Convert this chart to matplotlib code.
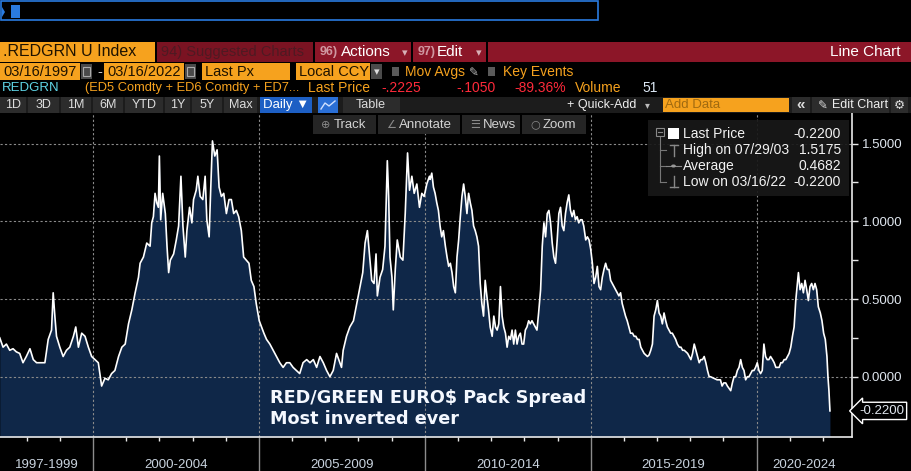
import matplotlib
matplotlib.use('Agg')
import matplotlib.pyplot as plt
from matplotlib.patches import Rectangle, Polygon
from matplotlib.lines import Line2D
from matplotlib.transforms import blended_transform_factory

# RED/GREEN pack spread (decimal years, value)
years = [
    1997.19, 1997.29, 1997.39, 1997.49, 1997.59, 1997.69, 1997.79, 1997.89, 1997.99, 1998.10,
    1998.20, 1998.30, 1998.40, 1998.55, 1998.65, 1998.75, 1998.80, 1998.85, 1998.90, 1999.00,
    1999.10, 1999.20, 1999.30, 1999.41, 1999.48, 1999.56, 1999.66, 1999.76, 1999.86, 1999.96,
    2000.06, 2000.16, 2000.26, 2000.36, 2000.46, 2000.56, 2000.66, 2000.77, 2000.87, 2000.97,
    2001.07, 2001.17, 2001.27, 2001.37, 2001.42, 2001.52, 2001.62, 2001.72, 2001.77, 2001.82,
    2001.87, 2001.92, 2001.97, 2002.00, 2002.04, 2002.10, 2002.18, 2002.23, 2002.28, 2002.33,
    2002.43, 2002.51, 2002.58, 2002.65, 2002.71, 2002.78, 2002.83, 2002.91, 2002.98, 2003.03,
    2003.11, 2003.16, 2003.23, 2003.31, 2003.38, 2003.43, 2003.50, 2003.54, 2003.60, 2003.67,
    2003.74, 2003.80, 2003.87, 2003.94, 2004.02, 2004.10, 2004.17, 2004.24, 2004.32, 2004.39,
    2004.47, 2004.54, 2004.62, 2004.70, 2004.77, 2004.85, 2004.92, 2005.01, 2005.08, 2005.15,
    2005.23, 2005.33, 2005.43, 2005.53, 2005.63, 2005.73, 2005.83, 2005.93, 2006.03, 2006.13,
    2006.23, 2006.33, 2006.44, 2006.54, 2006.64, 2006.74, 2006.84, 2006.94, 2007.04, 2007.14,
    2007.24, 2007.34, 2007.44, 2007.49, 2007.54, 2007.64, 2007.74, 2007.85, 2007.95, 2008.05,
    2008.13, 2008.20, 2008.27, 2008.33, 2008.40, 2008.47, 2008.53, 2008.57, 2008.65, 2008.73,
    2008.80, 2008.87, 2008.91, 2008.95, 2009.01, 2009.05, 2009.11, 2009.17, 2009.26, 2009.34,
    2009.41, 2009.48, 2009.54, 2009.61, 2009.68, 2009.76, 2009.84, 2009.91, 2009.98, 2010.06,
    2010.14, 2010.16, 2010.21, 2010.26, 2010.31, 2010.36, 2010.41, 2010.46, 2010.51, 2010.56,
    2010.62, 2010.67, 2010.72, 2010.77, 2010.82, 2010.87, 2010.92, 2010.97, 2011.02, 2011.07,
    2011.12, 2011.17, 2011.22, 2011.27, 2011.32, 2011.37, 2011.42, 2011.47, 2011.52, 2011.57,
    2011.62, 2011.67, 2011.72, 2011.77, 2011.82, 2011.87, 2011.92, 2011.97, 2012.03, 2012.08,
    2012.13, 2012.18, 2012.23, 2012.28, 2012.33, 2012.38, 2012.43, 2012.48, 2012.53, 2012.58,
    2012.63, 2012.68, 2012.73, 2012.78, 2012.83, 2012.88, 2012.93, 2012.98, 2013.03, 2013.08,
    2013.13, 2013.18, 2013.23, 2013.28, 2013.33, 2013.38, 2013.43, 2013.49, 2013.54, 2013.59,
    2013.64, 2013.69, 2013.74, 2013.79, 2013.84, 2013.89, 2013.94, 2013.99, 2014.04, 2014.09,
    2014.14, 2014.19, 2014.24, 2014.29, 2014.34, 2014.39, 2014.44, 2014.49, 2014.54, 2014.59,
    2014.64, 2014.69, 2014.74, 2014.79, 2014.85, 2014.90, 2014.95, 2015.00, 2015.05, 2015.10,
    2015.15, 2015.20, 2015.25, 2015.30, 2015.35, 2015.40, 2015.45, 2015.50, 2015.55, 2015.60,
    2015.65, 2015.70, 2015.75, 2015.80, 2015.85, 2015.90, 2015.95, 2016.00, 2016.05, 2016.10,
    2016.15, 2016.20, 2016.26, 2016.31, 2016.36, 2016.41, 2016.46, 2016.51, 2016.56, 2016.61,
    2016.66, 2016.71, 2016.76, 2016.81, 2016.86, 2016.91, 2016.96, 2017.01, 2017.06, 2017.11,
    2017.16, 2017.21, 2017.26, 2017.31, 2017.36, 2017.41, 2017.46, 2017.51, 2017.56, 2017.61,
    2017.67, 2017.72, 2017.77, 2017.82, 2017.87, 2017.92, 2017.97, 2018.02, 2018.07, 2018.12,
    2018.17, 2018.22, 2018.27, 2018.32, 2018.37, 2018.42, 2018.47, 2018.52, 2018.57, 2018.61,
    2018.71, 2018.81, 2018.91, 2018.96, 2019.01, 2019.07, 2019.12, 2019.22, 2019.27, 2019.32,
    2019.37, 2019.42, 2019.47, 2019.52, 2019.57, 2019.62, 2019.67, 2019.72, 2019.77, 2019.82,
    2019.87, 2019.92, 2019.97, 2020.02, 2020.07, 2020.12, 2020.17, 2020.22, 2020.27, 2020.32,
    2020.37, 2020.42, 2020.48, 2020.53, 2020.58, 2020.63, 2020.68, 2020.73, 2020.78, 2020.83,
    2020.88, 2020.93, 2020.98, 2021.03, 2021.08, 2021.13, 2021.18, 2021.23, 2021.26, 2021.31,
    2021.36, 2021.41, 2021.46, 2021.51, 2021.56, 2021.61, 2021.66, 2021.71, 2021.76, 2021.81,
    2021.86, 2021.92, 2021.97, 2022.02, 2022.07, 2022.12, 2022.15, 2022.18, 2022.21,
]
values = [
    0.25, 0.19, 0.21, 0.17, 0.18, 0.16, 0.15, 0.09, 0.13, 0.18,
    0.11, 0.09, 0.09, 0.09, 0.24, 0.30, 0.54, 0.39, 0.26, 0.19,
    0.13, 0.17, 0.19, 0.26, 0.32, 0.19, 0.28, 0.26, 0.19, 0.13,
    0.11, 0.09, -0.06, -0.01, -0.02, 0.02, 0.04, 0.13, 0.19, 0.21,
    0.34, 0.43, 0.54, 0.64, 0.73, 0.77, 0.86, 0.84, 0.99, 1.03,
    1.18, 1.12, 1.09, 1.42, 1.01, 1.18, 1.05, 0.84, 0.67, 0.75,
    0.79, 0.88, 0.97, 1.29, 0.97, 0.77, 0.94, 1.09, 0.99, 1.14,
    1.20, 1.29, 1.16, 1.14, 1.29, 1.01, 0.90, 1.16, 1.5175, 1.42,
    1.46, 1.22, 1.16, 1.18, 1.05, 1.14, 1.14, 1.05, 1.07, 1.03,
    0.94, 0.77, 0.75, 0.73, 0.62, 0.58, 0.47, 0.36, 0.32, 0.28,
    0.24, 0.21, 0.17, 0.13, 0.09, 0.06, 0.09, 0.09, 0.06, 0.04,
    0.02, 0.09, 0.11, 0.09, 0.11, 0.06, 0.13, 0.09, 0.04, 0.00,
    0.04, 0.15, 0.09, 0.06, 0.17, 0.26, 0.32, 0.36, 0.47, 0.58,
    0.67, 0.86, 0.94, 0.79, 0.62, 0.60, 0.79, 0.52, 0.64, 0.69,
    0.84, 1.39, 1.16, 0.77, 0.64, 0.43, 0.69, 0.88, 0.77, 0.75,
    1.05, 1.44, 1.20, 1.29, 1.18, 1.24, 1.09, 1.18, 1.16, 1.24,
    1.29, 1.27, 1.31, 1.22, 1.18, 1.12, 1.07, 0.97, 0.90, 0.94,
    0.84, 0.77, 0.71, 0.73, 0.67, 0.58, 0.54, 0.77, 0.88, 1.03,
    1.16, 1.24, 1.16, 1.05, 1.18, 1.12, 1.07, 0.97, 0.94, 0.90,
    0.84, 0.60, 0.47, 0.39, 0.62, 0.52, 0.43, 0.32, 0.26, 0.39,
    0.32, 0.30, 0.34, 0.58, 0.39, 0.32, 0.28, 0.19, 0.26, 0.24,
    0.30, 0.21, 0.30, 0.21, 0.26, 0.28, 0.21, 0.21, 0.30, 0.32,
    0.36, 0.34, 0.36, 0.34, 0.32, 0.30, 0.41, 0.56, 0.84, 0.99,
    0.90, 1.05, 1.07, 0.99, 0.86, 0.77, 0.73, 0.88, 1.05, 1.09,
    0.97, 0.94, 1.05, 1.12, 1.17, 1.07, 1.03, 1.07, 1.01, 1.03,
    0.99, 1.01, 1.01, 0.97, 0.88, 0.90, 0.88, 0.82, 0.73, 0.60,
    0.64, 0.71, 0.58, 0.56, 0.64, 0.69, 0.73, 0.69, 0.69, 0.62,
    0.60, 0.58, 0.56, 0.54, 0.52, 0.54, 0.47, 0.43, 0.39, 0.36,
    0.32, 0.28, 0.28, 0.26, 0.26, 0.24, 0.24, 0.19, 0.17, 0.15,
    0.14, 0.13, 0.14, 0.17, 0.21, 0.39, 0.43, 0.49, 0.41, 0.39,
    0.34, 0.41, 0.36, 0.32, 0.30, 0.28, 0.28, 0.26, 0.24, 0.21,
    0.19, 0.19, 0.17, 0.17, 0.16, 0.15, 0.13, 0.11, 0.15, 0.21,
    0.17, 0.13, 0.09, 0.11, 0.11, 0.13, 0.09, 0.04, 0.00, 0.00,
    -0.01, -0.02, -0.02, -0.06, -0.04, -0.04, -0.06, -0.09, -0.04, 0.00,
    0.00, 0.04, 0.06, 0.11, 0.06, 0.04, -0.02, 0.00, 0.00, 0.02,
    0.04, 0.04, 0.06, 0.09, 0.04, 0.02, 0.04, 0.21, 0.13, 0.11,
    0.11, 0.13, 0.11, 0.09, 0.06, 0.06, 0.06, 0.09, 0.09, 0.11,
    0.11, 0.13, 0.15, 0.19, 0.26, 0.32, 0.49, 0.60, 0.67, 0.56,
    0.60, 0.54, 0.62, 0.56, 0.49, 0.58, 0.60, 0.56, 0.60, 0.56,
    0.45, 0.41, 0.36, 0.28, 0.24, 0.13, 0.00, -0.09, -0.22,
]

y_major = [0.0, 0.5, 1.0, 1.5]
y_minor = [0.25, 0.75, 1.25]
block_edges = [2000, 2005, 2010, 2015, 2020]
block_labels = ['1997-1999', '2000-2004', '2005-2009', '2010-2014', '2015-2019', '2020-2024']
year_ticks = [1998, 1999, 2001, 2002, 2003, 2004, 2006, 2007, 2008, 2009,
              2011, 2012, 2013, 2014, 2016, 2017, 2018, 2019, 2021, 2022]
last_price = -0.22
legend_rows = [('Last Price', '-0.2200'), ('High on 07/29/03', '1.5175'),
               ('Average', '0.4682'), ('Low on 03/16/22', '-0.2200')]
x_start, x_end = 1997.197, 2022.875
y_low, y_high = -0.388, 1.697

UI = 'Liberation Sans'
ORANGE = '#f6a21e'
DARK = '#1e1200'
RED_BAR = '#8c1628'
FILL = '#0f2748'

W, H = 911, 471
fig = plt.figure(figsize=(W / 100, H / 100), dpi=100, facecolor='black')


def fx(x):
    return x / W


def fy(y):
    return 1 - y / H


def rect(x0, y0, x1, y1, fc, ec='none', lw=0, z=2, alpha=1.0):
    fig.patches.append(Rectangle((fx(x0), fy(y1)), (x1 - x0) / W, (y1 - y0) / H,
                                 transform=fig.transFigure, facecolor=fc, edgecolor=ec,
                                 linewidth=lw, zorder=z, alpha=alpha))


def label(x, y, s, color, size=10, ha='left', weight='normal', family=UI, z=5):
    fig.text(fx(x), fy(y), s, color=color, fontsize=size, ha=ha, va='center',
             fontweight=weight, family=[family, 'DejaVu Sans'], zorder=z)


def seg(xs, ys, color, lw=1, z=5):
    fig.lines.append(Line2D([fx(v) for v in xs], [fy(v) for v in ys], color=color,
                            lw=lw, transform=fig.transFigure, zorder=z))


# ---- main chart ----
ax = fig.add_axes([0, fy(437), 852 / W, (437 - 113) / H])
ax.set_facecolor('black')
ax.fill_between(years, values, y_low, color=FILL, lw=0, zorder=1)
ax.plot(years, values, color='white', lw=1.2, zorder=3)
ax.set_xlim(x_start, x_end)
ax.set_ylim(y_low, y_high)

for s in ['top', 'left']:
    ax.spines[s].set_visible(False)
for s in ['right', 'bottom']:
    ax.spines[s].set_color('#e8e8e8')
    ax.spines[s].set_linewidth(1.2)

ax.yaxis.tick_right()
ax.set_yticks(y_major)
ax.set_yticklabels(['%.4f' % v for v in y_major])
ax.set_yticks(y_minor, minor=True)
ax.tick_params(axis='y', which='major', colors='#e8e8e8', labelcolor='#dfe6ee',
               length=4, width=1, pad=3, labelsize=9.5)
ax.tick_params(axis='y', which='minor', colors='#e8e8e8', length=4, width=1)
for t in ax.get_yticklabels():
    t.set_family(UI)

ax.set_xticks(block_edges)
ax.set_xticklabels([''] * len(block_edges))
ax.set_xticks(year_ticks, minor=True)
ax.tick_params(axis='x', which='major', colors='#8c8c8c', length=25, width=1)
ax.tick_params(axis='x', which='minor', colors='#e8e8e8', length=3, width=1)

for v in y_major:
    ax.axhline(v, color='#8a8a8a', lw=0.8, ls=(0, (2, 2)), zorder=2)
for v in block_edges:
    ax.axvline(v, color='#8a8a8a', lw=0.8, ls=(0, (2, 2)), zorder=2)

bounds = [x_start] + block_edges + [x_end]
xtr = blended_transform_factory(ax.transData, ax.transAxes)
for i, lab in enumerate(block_labels):
    ax.text((bounds[i] + bounds[i + 1]) / 2, -0.085, lab, transform=xtr, ha='center',
            va='center', color='#c9d3de', fontsize=9.5, family=UI, clip_on=False)

ytr = blended_transform_factory(ax.transAxes, ax.transData)
ax.text(1.0 + 7 / 852, last_price, '-0.2200', transform=ytr, ha='left', va='center',
        color='#dfe6ee', fontsize=9.5, family=UI, clip_on=False,
        bbox=dict(boxstyle='larrow,pad=0.2', fc='black', ec='white', lw=1))

ax.text(2005.33, -0.205, 'RED/GREEN EURO$ Pack Spread\nMost inverted ever',
        color='#f4f8ff', fontsize=12.7, fontweight='bold', family='DejaVu Sans',
        ha='left', va='center', linespacing=1.25, zorder=6)

# ---- legend box ----
rect(648, 120, 849, 196, '#181818', z=3, alpha=0.92)
rect(656, 128, 664, 136, 'none', ec='#888888', lw=0.8, z=4)
seg([658, 662], [132, 132], '#888888', 0.8)
seg([660, 660], [137, 182], '#777777', 0.8)
for yy in [150, 166, 182]:
    seg([660, 666], [yy, yy], '#777777', 0.8)
rect(668, 128, 679, 139, 'white', z=4)
seg([670, 678], [145, 145], '#888888', 1)
seg([674, 674], [145, 156], '#888888', 1)
seg([666, 681], [166, 166], '#888888', 0.8)
fig.patches.append(plt.Circle((fx(673.5), fy(166)), 1.6 / W, transform=fig.transFigure,
                              color='#999999', zorder=5))
seg([674, 674], [176, 187], '#888888', 1)
seg([670, 678], [187, 187], '#888888', 1)
for i, (name, val) in enumerate(legend_rows):
    yy = 134 + 16 * i
    label(683, yy, name, '#f2f2f2', 10)
    label(841, yy, val, '#f2f2f2', 10, ha='right')

# ---- top command line ----
rect(1, 1, 598, 20, 'none', ec='#2a7be0', lw=1.2)
fig.patches.append(Polygon([(fx(2), fy(7)), (fx(5), fy(12)), (fx(2), fy(17))],
                           closed=True, transform=fig.transFigure, fc='#2a7be0', zorder=3))
rect(11, 5, 20, 18, '#2a7be0')

# ---- header row ----
rect(0, 42, 155, 62, ORANGE)
label(3, 52, '.REDGRN U Index', DARK, 11.5)
rect(157, 42, 313, 62, '#7a1322')
label(161, 52, '94) Suggested Charts', '#4e1a22', 10.5)
rect(315, 42, 411, 62, RED_BAR)
label(320, 52, '96)', '#cf97a0', 9, weight='bold')
label(341, 52, 'Actions', 'white', 11)
label(402, 53, '▾', '#d8b0b6', 8)
rect(413, 42, 486, 62, RED_BAR)
label(418, 52, '97)', '#cf97a0', 9, weight='bold')
label(437, 52, 'Edit', 'white', 11)
label(476, 53, '▾', '#d8b0b6', 8)
rect(488, 42, 911, 62, RED_BAR)
label(900, 52, 'Line Chart', 'white', 11, ha='right')

# ---- date row ----
rect(0, 63, 80, 80, ORANGE)
label(3, 72, '03/16/1997', DARK, 10.5)
rect(81, 64, 92, 79, '#4a4a4a')
rect(83, 67, 90, 76, 'none', ec='#aaaaaa', lw=0.8)
label(97, 72, '-', '#cccccc', 10.5)
rect(104, 63, 184, 80, ORANGE)
label(107, 72, '03/16/2022', DARK, 10.5)
rect(185, 64, 196, 79, '#4a4a4a')
rect(187, 67, 194, 76, 'none', ec='#aaaaaa', lw=0.8)
rect(202, 63, 290, 80, ORANGE)
label(205, 72, 'Last Px', DARK, 10.5)
rect(296, 63, 370, 80, ORANGE)
label(299, 72, 'Local CCY', DARK, 10.5)
rect(371, 64, 382, 79, '#4a4a4a')
label(376.5, 72, '▾', '#dddddd', 8, ha='center')
rect(392, 67, 399, 76, '#5a5a5a')
label(405, 72, 'Mov Avgs', ORANGE, 10)
label(469, 72, '✎', '#bbbbbb', 8.5, family='DejaVu Sans')
rect(488, 67, 495, 76, '#5a5a5a')
label(503, 72, 'Key Events', ORANGE, 10)

# ---- ticker row ----
label(2, 88, 'REDGRN', '#5fd5e6', 9.5)
label(85, 88, '(ED5 Comdty + ED6 Comdty + ED7...', ORANGE, 9.3)
label(308, 88, 'Last Price', ORANGE, 10)
label(381, 88, '-.2225', '#ff2a3a', 10)
label(456, 88, '-.1050', '#ff2a3a', 10)
label(514, 88, '-89.36%', '#ff2a3a', 10)
label(575, 88, 'Volume', ORANGE, 10)
label(642, 88, '51', '#dce8f5', 10)

# ---- button row ----
rect(0, 97, 911, 113, '#1c1c1c', z=1)
btns = [('1D', 0, 26), ('3D', 28, 59), ('1M', 61, 91), ('6M', 93, 123), ('YTD', 125, 163),
        ('1Y', 165, 190), ('5Y', 192, 222), ('Max', 224, 257)]
for name, a, b in btns:
    rect(a, 97, b, 113, '#2c2c2c')
    label((a + b) / 2, 105, name, '#dddddd', 9, ha='center')
rect(260, 97, 312, 113, '#1d5fc4')
label(286, 105, 'Daily ▼', 'white', 9.5, ha='center')
rect(318, 97, 338, 113, '#2a6fd6')
seg([321, 325, 329, 335], [109, 103, 106, 101], '#cfe0ff', 1)
rect(343, 97, 400, 113, '#2c2c2c')
label(371, 105, 'Table', '#dddddd', 9, ha='center')
label(567, 105, '+ Quick-Add', '#eeeeee', 9)
label(645, 105, '▾', '#bbbbbb', 7)
rect(663, 98, 789, 112, ORANGE)
label(665, 105, 'Add Data', '#a06a10', 9.5)
rect(792, 97, 810, 113, '#2c2c2c')
label(801, 105, '«', '#dddddd', 11, ha='center', weight='bold')
rect(812, 97, 889, 113, '#2c2c2c')
label(818, 105, '✎', '#dddddd', 8.5, family='DejaVu Sans')
label(832, 105, 'Edit Chart', '#eeeeee', 9)
rect(891, 97, 908, 113, '#2c2c2c')
label(899.5, 105, '⚙', '#dddddd', 9, ha='center', family='DejaVu Sans')

# ---- track row (over chart) ----
trk = [('⊕', 'Track', 313, 376), ('∠', 'Annotate', 378, 460), ('☰', 'News', 462, 520),
       ('○', 'Zoom', 522, 586)]
for ic, name, a, b in trk:
    rect(a, 115, b, 134, '#252525', z=3)
    label(a + 8, 124.5, ic, '#8a8a8a', 8, family='DejaVu Sans')
    label(a + 21, 124.5, name, '#d2d2d2', 9.5)

fig.savefig('out.png', dpi=100, facecolor='black')
